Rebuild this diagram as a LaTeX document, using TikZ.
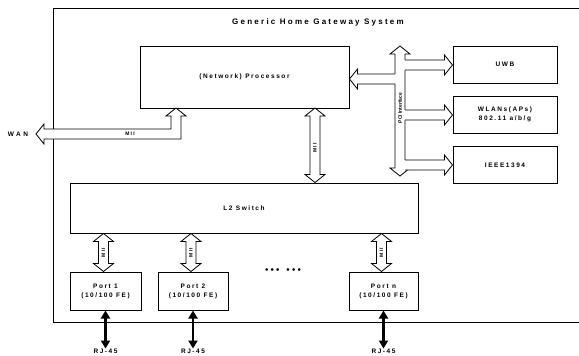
\documentclass[tikz,border=0pt]{standalone}
\usepackage{fontspec}
\setmainfont{Liberation Sans}[LetterSpace=24]
\usetikzlibrary{arrows.meta,calc}
\tikzset{
  unit/.style={draw, line width=1pt, inner sep=0pt, align=center,
    font=\bfseries\fontsize{6.5}{9}\selectfont},
  busline/.style={draw, fill=white, line width=0.8pt, line join=miter},
  tag/.style={font=\bfseries\fontsize{6.5}{8}\selectfont, inner sep=0.5pt},
  small/.style={font=\bfseries\fontsize{5}{6}\selectfont, inner sep=0pt},
  jack/.style={line width=2.8pt, {Triangle[width=9pt,length=8pt]}-{Triangle[width=9pt,length=8pt]}},
}
% hollow bus arrows: half shaft, half head, head length
\newcommand{\busw}{5}
\newcommand{\bush}{10}
\newcommand{\busl}{8}
\newcommand{\vbus}[2]{% (#1) upper tip, (#2) lower tip
  \draw[busline] (#1) -- ($(#1)+(\bush,\busl)$) -- ($(#1)+(\busw,\busl)$)
    -- ($(#2)+(\busw,-\busl)$) -- ($(#2)+(\bush,-\busl)$) -- (#2)
    -- ($(#2)+(-\bush,-\busl)$) -- ($(#2)+(-\busw,-\busl)$)
    -- ($(#1)+(-\busw,\busl)$) -- ($(#1)+(-\bush,\busl)$) -- cycle;}
\newcommand{\busright}[2]{% (#1) on the bus axis, (#2) tip on the right
  \fill[white] ($(#1)+(0,-\busw)$) -- ($(#2)+(-\busl,-\busw)$) -- ($(#2)+(-\busl,-\bush)$)
    -- (#2) -- ($(#2)+(-\busl,\bush)$) -- ($(#2)+(-\busl,\busw)$) -- ($(#1)+(0,\busw)$) -- cycle;
  \draw[busline, fill=none] ($(#1)+(\busw,-\busw)$) -- ($(#2)+(-\busl,-\busw)$) -- ($(#2)+(-\busl,-\bush)$)
    -- (#2) -- ($(#2)+(-\busl,\bush)$) -- ($(#2)+(-\busl,\busw)$) -- ($(#1)+(\busw,\busw)$);}
\newcommand{\busleft}[2]{% (#1) on the bus axis, (#2) tip on the left
  \fill[white] ($(#1)+(0,-\busw)$) -- ($(#2)+(\busl,-\busw)$) -- ($(#2)+(\busl,-\bush)$)
    -- (#2) -- ($(#2)+(\busl,\bush)$) -- ($(#2)+(\busl,\busw)$) -- ($(#1)+(0,\busw)$) -- cycle;
  \draw[busline, fill=none] ($(#1)+(-\busw,-\busw)$) -- ($(#2)+(\busl,-\busw)$) -- ($(#2)+(\busl,-\bush)$)
    -- (#2) -- ($(#2)+(\busl,\bush)$) -- ($(#2)+(\busl,\busw)$) -- ($(#1)+(-\busw,\busw)$);}

\begin{document}
\begin{tikzpicture}[x=1pt, y=-1pt]
  \useasboundingbox (0,0) rectangle (579,356);
  % frame
  \draw[line width=0.8pt] (579,8) -| (53,322) -- (579,322);
  \node[tag, font=\bfseries\fontsize{8}{9}\selectfont\addfontfeature{LetterSpace=28}] (title) at (318,22) {Generic Home Gateway System};
  % blocks
  \node[unit, minimum width=209pt, minimum height=62pt] (proc) at (244.5,77) {(Network) Processor};
  \node[unit, minimum width=348pt, minimum height=50pt] (sw)   at (244,208)  {L2 Switch};
  \node[unit, minimum width=104pt, minimum height=37pt] (uwb)  at (505,64.5) {UWB};
  \node[unit, minimum width=104pt, minimum height=37pt] (wlan) at (505,114.5){WLANs(APs)\\802.11 a/b/g};
  \node[unit, minimum width=104pt, minimum height=37pt] (ieee) at (505,165)  {IEEE1394};
  \node[unit, minimum width=71pt, minimum height=38pt]  (p1)   at (105.5,291){Port 1\\(10/100 FE)};
  \node[unit, minimum width=70pt, minimum height=38pt]  (p2)   at (193,291)  {Port 2\\(10/100 FE)};
  \node[unit, minimum width=69pt, minimum height=38pt]  (pn)   at (383.5,291){Port n\\(10/100 FE)};
  \node[tag] (dots) at (283,270) {$\bullet\bullet\bullet$\quad$\bullet\bullet\bullet$};
  % WAN
  \node[tag, font=\bfseries\fontsize{6.5}{8}\selectfont\addfontfeature{LetterSpace=40}] (wan) at (18,134) {WAN};
  \coordinate (pw) at (176,108);
  \coordinate (wanend) at (36,134);
  \coordinate (corner) at (pw |- wanend);
  \draw[busline] (pw) -- ($(pw)+(\bush,\busl)$) -- ($(pw)+(\busw,\busl)$)
    -- ($(corner)+(\busw,\busw)$) -- ($(wanend)+(\busl,\busw)$) -- ($(wanend)+(\busl,\bush)$)
    -- (wanend) -- ($(wanend)+(\busl,-\bush)$) -- ($(wanend)+(\busl,-\busw)$)
    -- ($(corner)+(-\busw,-\busw)$) -- ($(pw)+(-\busw,\busl)$) -- ($(pw)+(-\bush,\busl)$) -- cycle;
  \node[small] (miiw) at (130,134) {MII};
  % MII processor - switch
  \coordinate (pm) at (315,108);
  \coordinate (pms) at (pm |- sw.north);
  \vbus{pm}{pms}
  \node[small, rotate=90] (miip) at (315,148) {MII};
  % PCI
  \coordinate (pcitop) at (400,46);
  \coordinate (pcibot) at (400,176);
  \vbus{pcitop}{pcibot}
  \coordinate (b0) at (400,79);
  \coordinate (b1) at (400,65);
  \coordinate (b2) at (400,115);
  \coordinate (b3) at (400,165);
  \coordinate (t0) at (proc.east |- b0);
  \coordinate (t1) at (uwb.west |- b1);
  \coordinate (t2) at (wlan.west |- b2);
  \coordinate (t3) at (ieee.west |- b3);
  \busleft{b0}{t0}
  \busright{b1}{t1}
  \busright{b2}{t2}
  \busright{b3}{t3}
  \node[small, rotate=90, font=\bfseries\fontsize{5}{6}\selectfont\addfontfeature{LetterSpace=0}] (pci) at (400,108) {PCI Interface};
  % ports
  \foreach \p in {p1,p2,pn}{
    \coordinate (\p t) at ($(\p.north |- sw.south)+(-2,0)$);
    \coordinate (\p b) at ($(\p.north)+(-2,0)$);
    \vbus{\p t}{\p b}
    \node[small, rotate=90] at ($(\p t)!0.5!(\p b)$) {MII};
    \node[tag] (rj\p) at ($(\p.south)+(0,41)$) {RJ-45};
    \draw[jack] (\p.south) -- (rj\p.north);
  }
\end{tikzpicture}
\end{document}
